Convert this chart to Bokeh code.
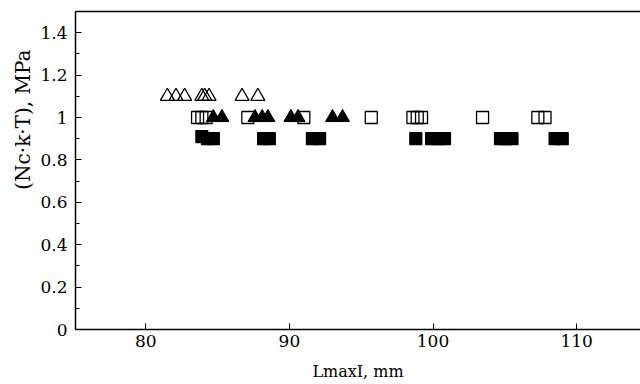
from bokeh.plotting import figure
from bokeh.models import LinearAxis, Range1d, FixedTicker
from bokeh.embed import file_html
from bokeh.resources import INLINE

# --- data ---
open_tri_x = [81.5, 82.1, 82.7, 83.9, 84.1, 84.4, 86.7, 87.8]
open_tri_y = [1.1, 1.1, 1.1, 1.1, 1.1, 1.1, 1.1, 1.1]

open_sq_x = [83.6, 83.9, 84.2, 87.1, 91.0, 95.7, 98.6, 98.9, 99.2, 103.45, 107.3, 107.8]
open_sq_y = [1.0] * 12

filled_tri_x = [84.7, 85.3, 87.6, 88.1, 88.5, 90.1, 90.6, 93.0, 93.7]
filled_tri_y = [1.0] * 9

filled_sq_x = [83.9, 84.3, 84.7, 88.2, 88.6, 91.6, 92.1, 98.8, 99.9, 100.4, 100.8,
               104.7, 105.05, 105.5, 108.5, 109.0]
filled_sq_y = [0.91, 0.9, 0.9, 0.9, 0.9, 0.9, 0.9, 0.9, 0.9, 0.9, 0.9,
               0.9, 0.9, 0.9, 0.9, 0.9]

x_ticks = [80, 90, 100, 110]
y_ticks = [0, 0.2, 0.4, 0.6, 0.8, 1.0, 1.2, 1.4]
y_minor = [0.1, 0.3, 0.5, 0.7, 0.9, 1.1, 1.3]
y_tick_labels = {0: "0", 0.2: "0.2", 0.4: "0.4", 0.6: "0.6", 0.8: "0.8",
                 1.0: "1", 1.2: "1.2", 1.4: "1.4"}

FONT = "DejaVu Serif"

p = figure(width=640, height=384, output_backend="svg", toolbar_location=None,
           x_range=Range1d(75.1, 114.45), y_range=Range1d(0, 1.5),
           min_border_left=75, min_border_right=0, min_border_top=11,
           min_border_bottom=55, background_fill_color="white",
           border_fill_color="white", outline_line_color=None)
p.grid.visible = False

# markers
p.scatter(open_sq_x, open_sq_y, marker="square", size=12, fill_color=None,
          line_color="black", line_width=1.3)
p.scatter(filled_tri_x, filled_tri_y, marker="triangle", size=14, fill_color="black",
          line_color="black", line_width=1)
p.scatter(open_tri_x, open_tri_y, marker="triangle", size=14, fill_color=None,
          line_color="black", line_width=1.3)
p.scatter(filled_sq_x, filled_sq_y, marker="square", size=12, fill_color="black",
          line_color="black", line_width=1.2)

# axes
for ax in p.xaxis:
    ax.ticker = FixedTicker(ticks=x_ticks)
    ax.major_tick_in = 6
    ax.major_tick_out = 0
    ax.minor_tick_line_color = None
    ax.axis_line_width = 1.5
    ax.major_label_text_font = FONT
    ax.major_label_text_font_size = "17px"
    ax.major_label_text_color = "black"
    ax.major_label_standoff = 5
    ax.axis_label = "LmaxI, mm"
    ax.axis_label_text_font = FONT
    ax.axis_label_text_font_size = "16px"
    ax.axis_label_text_font_style = "normal"
    ax.axis_label_text_color = "black"
    ax.axis_label_standoff = 12

pad = "\u00a0" * 16
for ax in p.yaxis:
    ax.ticker = FixedTicker(ticks=y_ticks, minor_ticks=y_minor)
    ax.major_label_overrides = y_tick_labels
    ax.major_tick_in = 6
    ax.major_tick_out = 0
    ax.minor_tick_in = 4
    ax.minor_tick_out = 0
    ax.axis_line_width = 1.5
    ax.major_label_text_font = FONT
    ax.major_label_text_font_size = "17px"
    ax.major_label_text_color = "black"
    ax.major_label_standoff = 8
    ax.axis_label = pad + "(Nc\u00b7k\u00b7T), MPa"
    ax.axis_label_text_font = FONT
    ax.axis_label_text_font_size = "20px"
    ax.axis_label_text_font_style = "normal"
    ax.axis_label_text_color = "black"
    ax.axis_label_standoff = 2

top = LinearAxis(ticker=FixedTicker(ticks=[]), major_label_text_font_size="0px",
                 axis_line_width=1.5, major_tick_line_color=None,
                 minor_tick_line_color=None, major_tick_out=0,
                 major_label_standoff=0, axis_label_standoff=0)
p.add_layout(top, "above")

open("out.html", "w").write(file_html(p, INLINE))
